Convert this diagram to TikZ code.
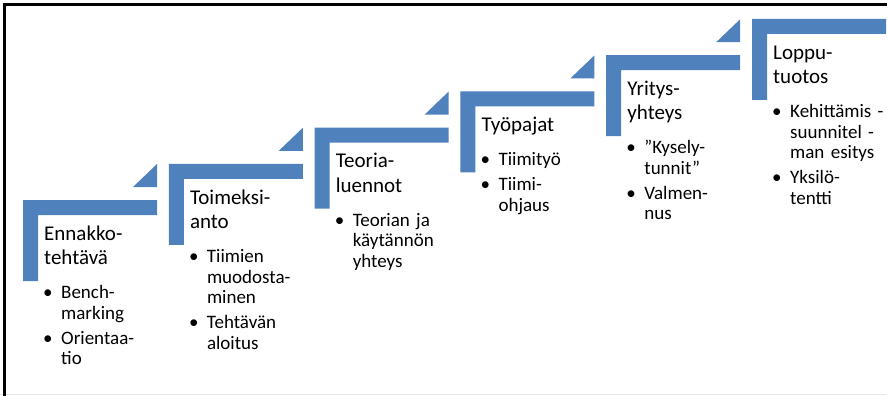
\documentclass[tikz,border=0pt]{standalone}
\usepackage{fontspec}
\setmainfont{Carlito}
\definecolor{stepblue}{HTML}{4F81BD}
\tikzset{
  stair/.style={fill=stepblue, draw=none},
  steptitle/.style={anchor=north west, inner sep=0pt, text width=130pt, align=left,
    font=\fontsize{21}{24.5}\selectfont},
  steplist/.style={anchor=north west, inner sep=0pt, text width=130pt, align=left,
    font=\fontsize{19}{20.5}\selectfont},
  frameline/.style={line width=2.5pt, black},
}
% bullet hanging to the left of an item
\newcommand{\bitem}{\leavevmode\llap{•\hspace{8.5pt}}}
% one stair: index, number of title lines, name, title, list
\newcommand{\stairstep}[5]{%
  \pgfmathsetmacro{\sx}{23+145.8*#1}%
  \pgfmathsetmacro{\sy}{200-36.2*#1}%
  \pgfmathsetmacro{\ly}{\sy+40+24.5*(#2-1)+34-14.35}%
  \fill[stair] (\sx,\sy) -- ++(134,0) -- ++(0,15) -- ++(-119,0) -- ++(0,66) -- ++(-15,0) -- cycle;
  \node[steptitle] (#3-title) at (\sx+21,\sy+22.85) {\strut #4};
  \node[steplist] (#3-list) at (\sx+38,\ly) {\strut #5};
}
% small rising wedge at the end of a stair
\newcommand{\stairwedge}[1]{%
  \pgfmathsetmacro{\sx}{23+145.8*#1}%
  \pgfmathsetmacro{\sy}{200-36.2*#1}%
  \fill[stair] (\sx+110,\sy-13) -- (\sx+134,\sy-13) -- (\sx+134,\sy-36) -- cycle;
}
\begin{document}
\begin{tikzpicture}[x=1pt, y=-1pt]
\useasboundingbox (0,0) rectangle (887,396);
\fill[white] (0,0) rectangle (887,396);

% frame
\draw[gray!20, line width=1.5pt] (0,394.5) -- (887,394.5);
\draw[frameline] (4.5,396) -- (4.5,4.3) -- (887,4.3);

% wedges
\foreach \k in {0,...,4} {\stairwedge{\k}}

% stairs
\stairstep{0}{2}{ennakko}{Ennakko-\\tehtävä}
  {\bitem Bench-\\marking\\[4.5pt]\bitem Orientaa-\\tio}
\stairstep{1}{2}{toimeksianto}{Toimeksi-\\anto}
  {\bitem Tiimien\\muodosta-\\minen\\[4.5pt]\bitem Tehtävän\\aloitus}
\stairstep{2}{2}{teoria}{Teoria-\\luennot}
  {\bitem Teorian ja\\käytännön\\yhteys}
\stairstep{3}{1}{tyopajat}{Työpajat}
  {\bitem Tiimityö\\[4.5pt]\bitem Tiimi-\\ohjaus}
\stairstep{4}{2}{yritys}{Yritys-\\yhteys}
  {\bitem ”Kysely-\\tunnit”\\[4.5pt]\bitem Valmen-\\nus}
\stairstep{5}{2}{lopputuotos}{Loppu-\\tuotos}
  {\bitem Kehittämis -\\suunnitel -\\man esitys\\[4.5pt]\bitem Yksilö-\\tentti}
\end{tikzpicture}
\end{document}
